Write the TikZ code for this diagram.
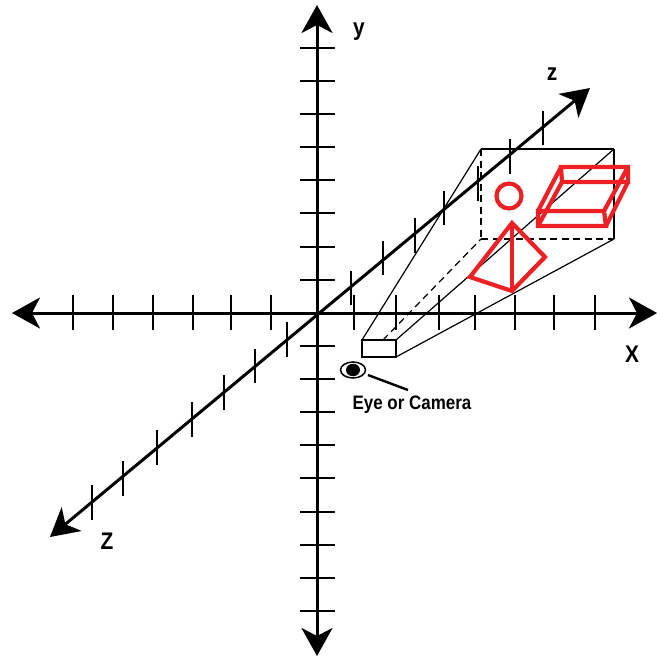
\documentclass[tikz,border=0pt]{standalone}
\usepackage{fontspec}
\setmainfont[FakeStretch=0.87]{Liberation Sans}
\usetikzlibrary{arrows.meta,shapes.geometric}
\begin{document}
\begin{tikzpicture}[
    x=1pt, y=-1pt,
    axisline/.style={line width=3pt, {Stealth[length=28pt,width=31pt,inset=8pt]}-{Stealth[length=28pt,width=31pt,inset=8pt]}},
    axistick/.style={line width=2.9pt},
    frustumline/.style={line width=1.2pt},
    hiddenline/.style={line width=1.2pt, dash pattern=on 7pt off 4.5pt},
    redline/.style={line width=4.2pt, draw={rgb,255:red,237;green,32;blue,36}, line join=miter},
    axislabel/.style={inner sep=0pt, font=\bfseries\fontsize{24}{24}\selectfont},
    eyelabel/.style={inner sep=0pt, font=\bfseries\fontsize{19.5}{22}\selectfont}
    ]
    \useasboundingbox (0,0) rectangle (657,656);

    %Axis ends
    \coordinate (x_left)  at (12,313);
    \coordinate (x_right) at (657,313);
    \coordinate (y_top)   at (317,5);
    \coordinate (y_down)  at (317,656);
    \coordinate (z_near)  at (50,537);
    \coordinate (z_far)   at (590,88);

    %Axes
    \draw[axisline]   (x_left) -- (x_right);
    \draw[axisline]   (y_down) -- (y_top);
    \draw[axisline]   (z_near) -- (z_far);

    %X ticks
    \draw[axistick]   (73,295) -- (73,330);
    \draw[axistick]   (113,295) -- (113,330);
    \draw[axistick]   (153,295) -- (153,330);
    \draw[axistick]   (193,295) -- (193,330);
    \draw[axistick]   (231,295) -- (231,330);
    \draw[axistick]   (271,295) -- (271,330);
    \draw[axistick]   (354,295) -- (354,330);
    \draw[axistick]   (396,295) -- (396,330);
    \draw[axistick]   (439,295) -- (439,330);
    \draw[axistick]   (475,295) -- (475,330);
    \draw[axistick]   (515,295) -- (515,330);
    \draw[axistick]   (554,295) -- (554,330);
    \draw[axistick]   (595,295) -- (595,330);

    %Y ticks
    \draw[axistick]   (300,48) -- (335,48);
    \draw[axistick]   (300,81) -- (335,81);
    \draw[axistick]   (300,114) -- (335,114);
    \draw[axistick]   (300,147) -- (335,147);
    \draw[axistick]   (300,180) -- (335,180);
    \draw[axistick]   (300,213) -- (335,213);
    \draw[axistick]   (300,247) -- (335,247);
    \draw[axistick]   (300,280) -- (335,280);
    \draw[axistick]   (300,346) -- (335,346);
    \draw[axistick]   (300,379) -- (335,379);
    \draw[axistick]   (300,412) -- (335,412);
    \draw[axistick]   (300,445) -- (335,445);
    \draw[axistick]   (300,478) -- (335,478);
    \draw[axistick]   (300,512) -- (335,512);
    \draw[axistick]   (300,545) -- (335,545);
    \draw[axistick]   (300,578) -- (335,578);
    \draw[axistick]   (300,611) -- (335,611);

    %Z ticks
    \draw[axistick]   (92,485) -- (92,520);
    \draw[axistick]   (123,461) -- (123,496);
    \draw[axistick]   (157,430) -- (157,465);
    \draw[axistick]   (192,402) -- (192,437);
    \draw[axistick]   (224,375) -- (224,410);
    \draw[axistick]   (255,349) -- (255,383);
    \draw[axistick]   (287,322) -- (287,357);
    \draw[axistick]   (351,271) -- (351,305);
    \draw[axistick]   (383,241) -- (383,275);
    \draw[axistick]   (415,218) -- (415,253);
    \draw[axistick]   (444,191) -- (444,225);
    \draw[axistick]   (478,166) -- (478,201);
    \draw[axistick]   (510,139) -- (510,174);
    \draw[axistick]   (543,111) -- (543,145);

    %Frustum corners
    \coordinate (near_top_left)     at (362,340);
    \coordinate (near_top_right)    at (396,340);
    \coordinate (near_bottom_left)  at (362,357);
    \coordinate (near_bottom_right) at (396,357);
    \coordinate (near_back)         at (383,340);
    \coordinate (far_top_left)      at (481,149);
    \coordinate (far_top_right)     at (614,149);
    \coordinate (far_bottom_left)   at (481,239);
    \coordinate (far_bottom_right)  at (614,239);

    %Frustum
    \draw[frustumline, fill=white]   (near_top_left) -- (near_top_right) -- (near_bottom_right) -- (near_bottom_left) -- cycle;
    \draw[frustumline]   (near_top_left) -- (far_top_left);
    \draw[frustumline]   (near_top_right) -- (far_top_right);
    \draw[frustumline]   (near_bottom_right) -- (far_bottom_right);
    \draw[frustumline]   (far_top_left) -- (far_top_right);
    \draw[frustumline]   (far_top_right) -- (far_bottom_right);
    \draw[hiddenline]    (far_top_left) -- (far_bottom_left);
    \draw[hiddenline]    (far_bottom_left) -- (far_bottom_right);
    \draw[hiddenline]    (near_back) -- (far_bottom_left);

    %Red sphere
    \node[circle, redline, minimum size=25pt, inner sep=0pt, outer sep=0pt] (sphere) at (509,196) {};

    %Red pyramid
    \coordinate (pyramid_apex)   at (512,223);
    \coordinate (pyramid_left)   at (470,277);
    \coordinate (pyramid_bottom) at (512,291);
    \coordinate (pyramid_right)  at (545,257);
    \draw[redline]   (pyramid_apex) -- (pyramid_left) -- (pyramid_bottom) -- (pyramid_right) -- cycle;
    \draw[redline]   (pyramid_apex) -- (pyramid_bottom);

    %Red box
    \coordinate (box_front_a) at (538,211);
    \coordinate (box_front_b) at (604,211);
    \coordinate (box_front_c) at (606,226);
    \coordinate (box_front_d) at (538,226);
    \coordinate (box_back_a)  at (561,167);
    \coordinate (box_back_b)  at (628,167);
    \coordinate (box_back_c)  at (628,182);
    \coordinate (box_back_d)  at (562,182);
    \draw[redline]   (box_front_a) -- (box_front_b) -- (box_front_c) -- (box_front_d) -- cycle;
    \draw[redline]   (box_back_a) -- (box_back_b) -- (box_back_c) -- (box_back_d) -- cycle;
    \draw[redline]   (box_front_a) -- (box_back_a);
    \draw[redline]   (box_front_b) -- (box_back_b);
    \draw[redline]   (box_front_c) -- (box_back_c);
    \draw[redline]   (box_front_d) -- (box_back_d);

    %Eye
    \node[ellipse, draw=black, line width=1.5pt, minimum width=25pt, minimum height=16pt, inner sep=0pt] (eye) at (353,370) {};
    \node[ellipse, fill=black, minimum width=14pt, minimum height=12.5pt, inner sep=0pt] (pupil) at (eye.center) {};
    \node[eyelabel] (eye_label) at (412,405) {Eye or Camera};
    \coordinate (pointer_start) at (368,375);
    \coordinate (pointer_end)   at (408,390);
    \draw[line width=2.4pt]   (pointer_start) -- (pointer_end);

    %Axis labels
    \node[axislabel] (label_y)       at (359,32) {y};
    \node[axislabel] (label_z_far)   at (552,74) {z};
    \node[axislabel] (label_x)       at (632,354) {X};
    \node[axislabel] (label_z_near)  at (107,541) {Z};
\end{tikzpicture}
\end{document}
